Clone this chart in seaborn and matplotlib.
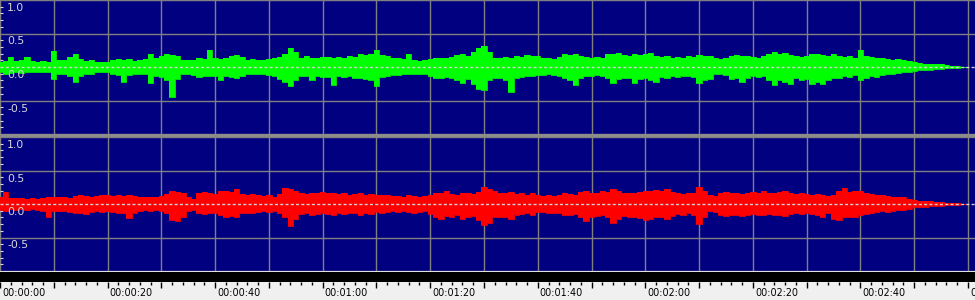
import numpy as np
import pandas as pd
import matplotlib
matplotlib.use("Agg")
import matplotlib.pyplot as plt
from matplotlib.patches import Rectangle
from matplotlib.ticker import MultipleLocator, FixedLocator
from matplotlib.transforms import ScaledTranslation
import seaborn as sns

# ---------------- data ----------------
seconds = list(range(0, 181))

green_upper = [0.07, 0.09, 0.15, 0.09, 0.10, 0.15, 0.09, 0.08, 0.09, 0.07,
               0.24, 0.10, 0.11, 0.15, 0.20, 0.12, 0.09, 0.10, 0.08, 0.07,
               0.08, 0.11, 0.12, 0.10, 0.12, 0.09, 0.10, 0.12, 0.19, 0.13,
               0.17, 0.20, 0.18, 0.17, 0.10, 0.11, 0.10, 0.13, 0.12, 0.25,
               0.13, 0.12, 0.14, 0.17, 0.18, 0.15, 0.11, 0.12, 0.10, 0.11,
               0.12, 0.13, 0.15, 0.20, 0.28, 0.22, 0.14, 0.17, 0.13, 0.14,
               0.15, 0.15, 0.14, 0.15, 0.13, 0.16, 0.15, 0.19, 0.18, 0.20,
               0.25, 0.18, 0.17, 0.13, 0.14, 0.12, 0.20, 0.10, 0.09, 0.10,
               0.12, 0.13, 0.14, 0.13, 0.15, 0.18, 0.20, 0.17, 0.22, 0.28,
               0.31, 0.22, 0.13, 0.14, 0.15, 0.13, 0.16, 0.15, 0.18, 0.17,
               0.16, 0.13, 0.14, 0.12, 0.15, 0.19, 0.18, 0.20, 0.17, 0.15,
               0.13, 0.15, 0.14, 0.20, 0.19, 0.21, 0.18, 0.17, 0.20, 0.18,
               0.20, 0.21, 0.17, 0.15, 0.16, 0.14, 0.15, 0.14, 0.16, 0.15,
               0.18, 0.17, 0.16, 0.13, 0.12, 0.14, 0.17, 0.18, 0.16, 0.17,
               0.15, 0.14, 0.16, 0.20, 0.22, 0.19, 0.21, 0.18, 0.16, 0.15,
               0.17, 0.20, 0.19, 0.18, 0.17, 0.19, 0.16, 0.15, 0.16, 0.14,
               0.25, 0.16, 0.15, 0.14, 0.13, 0.12, 0.11, 0.12, 0.10, 0.09,
               0.08, 0.06, 0.05, 0.05, 0.04, 0.04, 0.03, 0.02, 0.01, 0.0,
               0.0]

green_lower = [-0.08, -0.10, -0.09, -0.08, -0.09, -0.08, -0.07, -0.08, -0.07, -0.08,
               -0.18, -0.10, -0.10, -0.13, -0.22, -0.13, -0.10, -0.10, -0.08, -0.07,
               -0.08, -0.10, -0.12, -0.22, -0.12, -0.10, -0.10, -0.11, -0.24, -0.13,
               -0.15, -0.20, -0.45, -0.18, -0.10, -0.10, -0.12, -0.15, -0.14, -0.13,
               -0.14, -0.20, -0.14, -0.15, -0.16, -0.14, -0.11, -0.10, -0.11, -0.10,
               -0.12, -0.13, -0.18, -0.22, -0.29, -0.20, -0.13, -0.14, -0.19, -0.13,
               -0.15, -0.15, -0.27, -0.14, -0.15, -0.13, -0.16, -0.17, -0.18, -0.20,
               -0.29, -0.15, -0.14, -0.12, -0.12, -0.11, -0.10, -0.10, -0.11, -0.10,
               -0.14, -0.16, -0.17, -0.15, -0.16, -0.20, -0.24, -0.18, -0.25, -0.33,
               -0.34, -0.20, -0.17, -0.16, -0.20, -0.38, -0.17, -0.15, -0.14, -0.13,
               -0.12, -0.12, -0.11, -0.12, -0.14, -0.17, -0.20, -0.27, -0.17, -0.14,
               -0.13, -0.12, -0.14, -0.17, -0.24, -0.18, -0.16, -0.17, -0.24, -0.18,
               -0.16, -0.20, -0.22, -0.15, -0.16, -0.14, -0.15, -0.13, -0.14, -0.15,
               -0.24, -0.20, -0.18, -0.11, -0.10, -0.12, -0.18, -0.17, -0.22, -0.16,
               -0.14, -0.15, -0.13, -0.20, -0.27, -0.20, -0.22, -0.25, -0.16, -0.20,
               -0.18, -0.25, -0.22, -0.26, -0.20, -0.17, -0.16, -0.14, -0.15, -0.12,
               -0.20, -0.17, -0.14, -0.15, -0.12, -0.10, -0.11, -0.09, -0.08, -0.07,
               -0.06, -0.05, -0.04, -0.04, -0.03, -0.03, -0.02, -0.015, -0.01, 0.0,
               0.0]

red_upper = [0.11, 0.18, 0.09, 0.085, 0.09, 0.08, 0.09, 0.08, 0.09, 0.10,
             0.10, 0.11, 0.10, 0.09, 0.12, 0.13, 0.12, 0.11, 0.12, 0.14,
             0.13, 0.12, 0.13, 0.12, 0.13, 0.12, 0.10, 0.11, 0.10, 0.11,
             0.12, 0.15, 0.20, 0.18, 0.17, 0.10, 0.08, 0.16, 0.18, 0.17,
             0.15, 0.19, 0.20, 0.18, 0.22, 0.15, 0.14, 0.15, 0.13, 0.12,
             0.13, 0.11, 0.15, 0.24, 0.22, 0.20, 0.16, 0.15, 0.17, 0.16,
             0.18, 0.16, 0.17, 0.15, 0.16, 0.14, 0.15, 0.17, 0.14, 0.15,
             0.13, 0.14, 0.13, 0.12, 0.12, 0.11, 0.14, 0.12, 0.11, 0.12,
             0.13, 0.17, 0.16, 0.20, 0.15, 0.14, 0.17, 0.16, 0.15, 0.18,
             0.25, 0.22, 0.19, 0.17, 0.16, 0.18, 0.15, 0.16, 0.14, 0.17,
             0.13, 0.12, 0.14, 0.12, 0.14, 0.16, 0.15, 0.14, 0.18, 0.19,
             0.17, 0.16, 0.20, 0.18, 0.22, 0.20, 0.17, 0.16, 0.17, 0.18,
             0.20, 0.19, 0.21, 0.20, 0.22, 0.18, 0.16, 0.15, 0.17, 0.16,
             0.25, 0.20, 0.13, 0.12, 0.17, 0.18, 0.16, 0.17, 0.15, 0.16,
             0.18, 0.17, 0.19, 0.16, 0.17, 0.18, 0.20, 0.17, 0.15, 0.16,
             0.15, 0.14, 0.15, 0.13, 0.12, 0.14, 0.20, 0.24, 0.18, 0.19,
             0.20, 0.17, 0.15, 0.14, 0.13, 0.12, 0.11, 0.10, 0.10, 0.08,
             0.06, 0.05, 0.05, 0.04, 0.035, 0.03, 0.02, 0.015, 0.01, 0.005,
             0.0]

red_lower = [-0.09, -0.10, -0.08, -0.09, -0.08, -0.09, -0.08, -0.09, -0.10, -0.19,
             -0.10, -0.11, -0.10, -0.12, -0.14, -0.13, -0.15, -0.12, -0.11, -0.12,
             -0.11, -0.12, -0.13, -0.14, -0.21, -0.13, -0.10, -0.09, -0.10, -0.09,
             -0.10, -0.13, -0.24, -0.26, -0.20, -0.10, -0.09, -0.14, -0.15, -0.14,
             -0.13, -0.17, -0.19, -0.18, -0.20, -0.14, -0.13, -0.14, -0.12, -0.11,
             -0.12, -0.10, -0.13, -0.20, -0.33, -0.22, -0.15, -0.14, -0.16, -0.15,
             -0.14, -0.15, -0.16, -0.14, -0.15, -0.13, -0.14, -0.16, -0.14, -0.15,
             -0.12, -0.13, -0.12, -0.11, -0.12, -0.11, -0.12, -0.13, -0.12, -0.11,
             -0.15, -0.20, -0.22, -0.18, -0.19, -0.17, -0.22, -0.20, -0.18, -0.24,
             -0.32, -0.28, -0.20, -0.19, -0.20, -0.22, -0.17, -0.15, -0.14, -0.16,
             -0.12, -0.12, -0.14, -0.13, -0.14, -0.16, -0.17, -0.15, -0.20, -0.25,
             -0.20, -0.18, -0.17, -0.20, -0.28, -0.22, -0.18, -0.19, -0.20, -0.21,
             -0.24, -0.22, -0.20, -0.19, -0.22, -0.18, -0.15, -0.16, -0.14, -0.16,
             -0.30, -0.20, -0.11, -0.12, -0.16, -0.18, -0.17, -0.16, -0.18, -0.17,
             -0.15, -0.16, -0.17, -0.15, -0.16, -0.17, -0.18, -0.15, -0.14, -0.15,
             -0.14, -0.15, -0.16, -0.20, -0.14, -0.22, -0.24, -0.20, -0.19, -0.20,
             -0.17, -0.15, -0.13, -0.12, -0.11, -0.12, -0.10, -0.09, -0.09, -0.08,
             -0.05, -0.045, -0.04, -0.035, -0.03, -0.025, -0.02, -0.015, -0.01, -0.005,
             0.0]

amp_ticks = [1.0, 0.5, 0.0, -0.5]
amp_labels = ["1.0", "0.5", "0.0", "-0.5"]
time_major = list(range(0, 190, 10))
time_labels = ["00:00:00", "", "00:00:20", "", "00:00:40", "", "00:01:00", "",
               "00:01:20", "", "00:01:40", "", "00:02:00", "", "00:02:20", "",
               "00:02:40", "", "00:03:00"]

# ---------------- styling ----------------
NAVY = "#000080"
GRID = "#808080"
ZERO = "#d0d0d0"
LABEL = "#d8d8d8"
XMAX = 181.3

sns.set_theme(style="dark")
plt.rcParams["font.family"] = ["DejaVu Sans"]

fig = plt.figure(figsize=(9.75, 3.0), dpi=100)
fig.patch.set_facecolor("#f0f0f0")

H = 300.0
ax_top = fig.add_axes([0, 1 - 134 / H, 1, 134 / H])
ax_bot = fig.add_axes([0, 1 - 271 / H, 1, 134 / H])
ax_time = fig.add_axes([0, 0, 1, 18 / H])

df = pd.DataFrame({"t": seconds, "gu": green_upper, "gl": green_lower,
                   "ru": red_upper, "rl": red_lower})

for ax, up, lo, col in [(ax_top, "gu", "gl", "#00ff00"), (ax_bot, "ru", "rl", "#ff0000")]:
    ax.set_facecolor(NAVY)
    ax.set_xlim(0, XMAX)
    ax.set_ylim(-1, 1)
    ax.fill_between(df["t"], df[lo], df[up], color=col, lw=0, zorder=3, step="mid")
    sns.lineplot(data=df, x="t", y=up, ax=ax, color=col, lw=0.6, zorder=3,
                 drawstyle="steps-mid")
    sns.lineplot(data=df, x="t", y=lo, ax=ax, color=col, lw=0.6, zorder=3,
                 drawstyle="steps-mid")
    ax.axhline(0, color=ZERO, lw=1.0, ls=(0, (2.2, 1.6)), zorder=4)
    ax.xaxis.set_major_locator(MultipleLocator(10))
    ax.yaxis.set_major_locator(FixedLocator([-1, -0.5, 0.5, 1]))
    ax.yaxis.set_minor_locator(MultipleLocator(0.1))
    ax.grid(True, which="major", color=GRID, lw=1.0, zorder=1)
    ax.set_axisbelow(True)
    ax.tick_params(axis="x", which="both", length=0, labelbottom=False)
    ax.tick_params(axis="y", which="major", length=0, labelleft=False)
    ax.tick_params(axis="y", which="minor", direction="in", length=2.0,
                   width=0.8, color=LABEL, left=True)
    ax.set_xlabel("")
    ax.set_ylabel("")
    for s in ax.spines.values():
        s.set_visible(False)
    for v, lab in zip(amp_ticks, amp_labels):
        ax.annotate(lab, xy=(0, v), xycoords=ax.get_yaxis_transform(),
                    xytext=(7, -3), textcoords="offset pixels",
                    ha="left", va="top", color=LABEL, fontsize=7.8, zorder=6)

# separator between channels and black strip above the time ruler
fig.add_artist(Rectangle((0, 1 - 137.5 / H), 1, 3.5 / H, transform=fig.transFigure,
                         color="#8c8c8c", lw=0))
fig.add_artist(Rectangle((0, 1 - 272 / H), 1, 1.2 / H, transform=fig.transFigure,
                         color="#e0e0e0", lw=0))
fig.add_artist(Rectangle((0, 1 - 282 / H), 1, 10 / H, transform=fig.transFigure,
                         color="#000000", lw=0))

# time ruler
ax_time.set_facecolor("#f0f0f0")
ax_time.set_xlim(0, XMAX)
ax_time.set_ylim(0, 1)
ax_time.set_yticks([])
for s in ax_time.spines.values():
    s.set_visible(False)
ax_time.xaxis.set_major_locator(FixedLocator(time_major))
ax_time.xaxis.set_minor_locator(MultipleLocator(2))
ax_time.set_xticklabels(time_labels)
ax_time.tick_params(axis="x", which="both", top=True, bottom=False, direction="in",
                    labeltop=False, labelbottom=True, color="#000000", width=1.0)
ax_time.tick_params(axis="x", which="major", length=4.0, pad=-8.3, labelsize=6.9,
                    labelcolor="#000000")
ax_time.tick_params(axis="x", which="minor", length=2.0)
off = ScaledTranslation(2 / 100, 0, fig.dpi_scale_trans)
for lab in ax_time.get_xticklabels():
    lab.set_horizontalalignment("left")
    lab.set_verticalalignment("top")
    lab.set_transform(lab.get_transform() + off)

fig.savefig("out.png", dpi=100, facecolor=fig.get_facecolor())
